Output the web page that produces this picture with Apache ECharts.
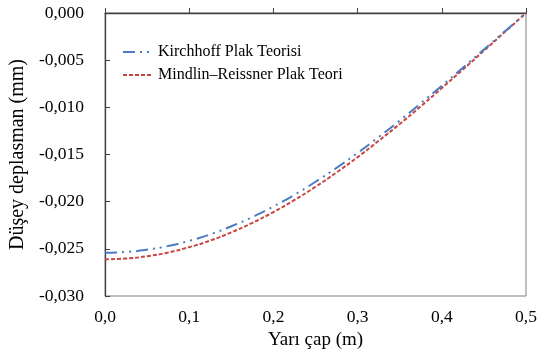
<!DOCTYPE html>
<html>
<head>
<meta charset="utf-8">
<script src="https://cdn.jsdelivr.net/npm/echarts@6/dist/echarts.min.js"></script>
<style>
  html, body { margin: 0; padding: 0; background: #ffffff; }
  #chart { width: 545px; height: 356px; }
</style>
</head>
<body>
<div id="chart"></div>
<script>
// Radius along the plate (m)
const radius = [0, 0.025, 0.05, 0.075, 0.1, 0.125, 0.15, 0.175, 0.2, 0.225, 0.25,
                0.275, 0.3, 0.325, 0.35, 0.375, 0.4, 0.425, 0.45, 0.475, 0.5];

// Vertical displacement (mm), Kirchhoff plate theory
const kirchhoff = [-0.02541, -0.02533, -0.02509, -0.02470, -0.02415, -0.02346, -0.02261,
                   -0.02163, -0.02051, -0.01926, -0.01789, -0.01641, -0.01483, -0.01315,
                   -0.01140, -0.00958, -0.00771, -0.00580, -0.00387, -0.00193, 0];

// Vertical displacement (mm), Mindlin–Reissner plate theory
const mindlin = [-0.02611, -0.02603, -0.02578, -0.02538, -0.02482, -0.02412, -0.02325,
                 -0.02224, -0.02110, -0.01982, -0.01842, -0.01690, -0.01528, -0.01355,
                 -0.01176, -0.00989, -0.00796, -0.00599, -0.00400, -0.00200, 0];

const seriesNames = ['Kirchhoff Plak Teorisi', 'Mindlin–Reissner Plak Teori'];
const xAxisTitle = 'Yarı çap (m)';
const yAxisTitle = 'Düşey deplasman (mm)';

const serif = '"Liberation Serif", "Times New Roman", serif';
const pairs = (ys) => radius.map((r, i) => [r, ys[i]]);

const chart = echarts.init(document.getElementById('chart'), null, { renderer: 'canvas' });
chart.setOption({
  animation: false,
  backgroundColor: '#ffffff',
  textStyle: { fontFamily: serif },
  grid: {
    left: 104, right: 19, top: 13, bottom: 60,
    show: true, borderColor: '#7f7f7f', borderWidth: 1
  },
  legend: {
    orient: 'vertical',
    left: 117, top: 39,
    itemWidth: 30, itemHeight: 12, itemGap: 7,
    itemStyle: { opacity: 0 },
    textStyle: { fontFamily: serif, fontSize: 16, color: '#000000' },
    data: seriesNames
  },
  xAxis: {
    type: 'value',
    min: 0, max: 0.5, interval: 0.1,
    name: xAxisTitle,
    nameLocation: 'middle',
    nameGap: 34,
    nameTextStyle: { fontFamily: serif, fontSize: 19, color: '#000000' },
    axisLine: { lineStyle: { color: '#404040', width: 1.3 } },
    axisTick: { inside: true, length: 5, lineStyle: { color: '#404040' } },
    axisLabel: {
      margin: 12, fontSize: 17.5, color: '#000000', fontFamily: serif,
      formatter: (v) => v.toFixed(1).replace('.', ',')
    },
    splitLine: { show: false }
  },
  yAxis: {
    type: 'value',
    min: -0.03, max: 0, interval: 0.005,
    name: yAxisTitle,
    nameLocation: 'middle',
    nameGap: 69,
    nameTextStyle: { fontFamily: serif, fontSize: 20, color: '#000000' },
    axisLine: { show: true, lineStyle: { color: '#404040', width: 1.3 } },
    axisTick: { show: true, inside: true, length: 5, lineStyle: { color: '#404040' } },
    axisLabel: {
      margin: 21, fontSize: 17.5, color: '#000000', fontFamily: serif,
      formatter: (v) => (Math.abs(v) < 1e-9 ? 0 : v).toFixed(3).replace('.', ',')
    },
    splitLine: { show: false }
  },
  series: [
    {
      name: seriesNames[0],
      type: 'line',
      smooth: true,
      symbol: 'none',
      data: pairs(kirchhoff),
      itemStyle: { color: '#4A7CC4' },
      lineStyle: { color: '#4A7CC4', width: 2, type: [12, 5, 2, 5, 2, 5] },
      z: 3
    },
    {
      name: seriesNames[1],
      type: 'line',
      smooth: true,
      symbol: 'none',
      data: pairs(mindlin),
      itemStyle: { color: '#C8463F' },
      lineStyle: { color: '#C8463F', width: 2, type: [4, 2] },
      z: 2
    }
  ]
});
</script>
</body>
</html>
